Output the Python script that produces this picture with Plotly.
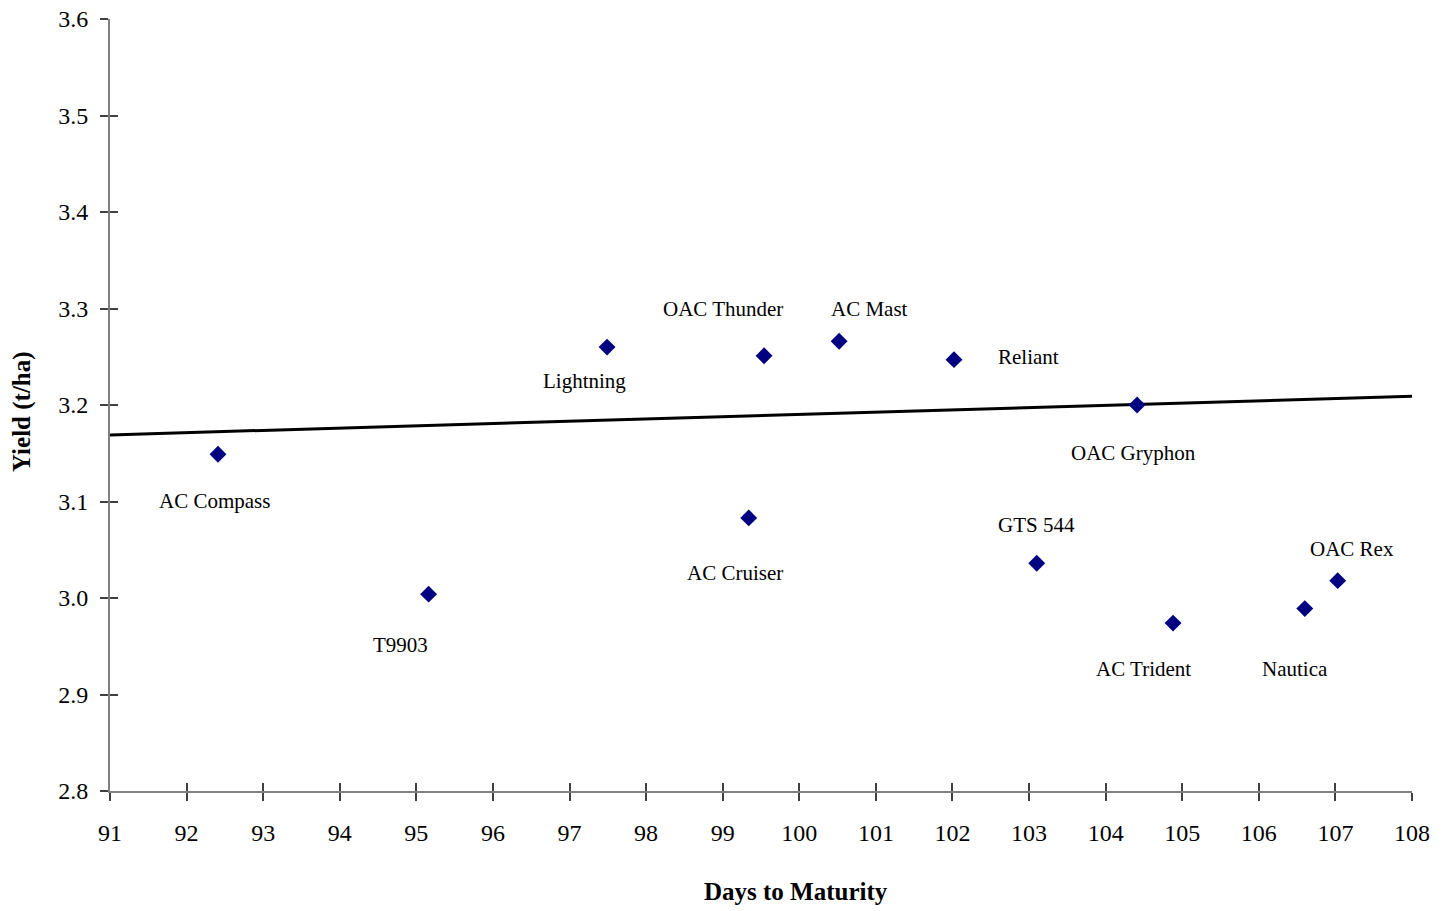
import plotly.graph_objects as go

# Data
varieties = ["AC Compass", "T9903", "Lightning", "AC Cruiser", "OAC Thunder", "AC Mast",
             "Reliant", "GTS 544", "OAC Gryphon", "AC Trident", "Nautica", "OAC Rex"]
days = [92.41, 95.16, 97.49, 99.34, 99.54, 100.52, 102.02, 103.10, 104.41, 104.88, 106.60, 107.03]
yields = [3.149, 3.004, 3.260, 3.083, 3.251, 3.266, 3.247, 3.036, 3.200, 2.974, 2.989, 3.018]

trend_x = [91, 108]
trend_y = [3.169, 3.209]

x_title = "Days to Maturity"
y_title = "Yield (t/ha)"

# label pixel offsets (dx, dy) relative to each point (style, not data)
label_offsets = [(-3, 47), (-28, 51), (-23, 34), (-14, 55), (-41, -47), (30, -32),
                 (74, -3), (0, -38), (-4, 48), (-30, 46), (-10, 60), (14, -32)]

FONT = "Liberation Serif, Times New Roman, serif"
TICKFONT = dict(family=FONT, size=24, color="black")

fig = go.Figure()
fig.add_trace(go.Scatter(x=trend_x, y=trend_y, mode="lines",
                         line=dict(color="black", width=3), showlegend=False, hoverinfo="skip"))
fig.add_trace(go.Scatter(x=days, y=yields, mode="markers", text=varieties,
                         marker=dict(symbol="diamond", color="#000080", size=13,
                                     line=dict(width=0)),
                         showlegend=False))

for name, xv, yv, (dx, dy) in zip(varieties, days, yields, label_offsets):
    fig.add_annotation(x=xv, y=yv, text=name, showarrow=False,
                       xshift=dx, yshift=-dy, xanchor="center", yanchor="middle",
                       font=dict(family=FONT, size=21, color="black"))

# axis titles (placed like the original, slightly right of plot centre)
fig.add_annotation(xref="paper", yref="paper", x=0.5269, y=-0.1308, text=f"<b>{x_title}</b>",
                   showarrow=False, xanchor="center", yanchor="middle",
                   font=dict(family=FONT, size=25, color="black"))
fig.add_annotation(xref="paper", yref="paper", x=-0.0676, y=0.4922, text=f"<b>{y_title}</b>",
                   showarrow=False, xanchor="center", yanchor="middle", textangle=-90,
                   font=dict(family=FONT, size=25, color="black"))

axis_common = dict(showgrid=False, zeroline=False, showline=True, linecolor="#808080",
                   linewidth=2, ticks="outside", ticklen=8, tickwidth=1.5, tickcolor="#404040",
                   automargin=False, tickfont=TICKFONT, ticklabeloverflow="allow")

fig.update_layout(
    width=1452, height=911,
    paper_bgcolor="white", plot_bgcolor="white",
    margin=dict(l=102, r=48, t=11, b=128),
    font=dict(family=FONT, size=24, color="black"),
    xaxis=dict(range=[91, 108], dtick=1, tick0=91, ticklabelstandoff=11, **axis_common),
    yaxis=dict(range=[2.8, 3.6], dtick=0.1, tick0=2.8, tickformat=".1f", ticklabelstandoff=7,
               **axis_common),
    xaxis2=dict(overlaying="x", matches="x", range=[91, 108], dtick=1, tick0=91,
                showticklabels=False, showgrid=False, zeroline=False, showline=False,
                ticks="inside", ticklen=8, tickwidth=1.5, tickcolor="#404040", side="bottom",
                anchor="y", automargin=False),
    yaxis2=dict(overlaying="y", matches="y", range=[2.8, 3.6], dtick=0.1, tick0=2.8,
                showticklabels=False, showgrid=False, zeroline=False, showline=False,
                ticks="inside", ticklen=8, tickwidth=1.5, tickcolor="#404040", side="left",
                anchor="x", automargin=False),
)
# invisible trace to activate the overlay axes (cross-style ticks)
fig.add_trace(go.Scatter(x=trend_x, y=trend_y, xaxis="x2", yaxis="y2", mode="lines",
                         line=dict(width=0, color="rgba(0,0,0,0)"), showlegend=False,
                         hoverinfo="skip"))

fig.write_html("out.html")
